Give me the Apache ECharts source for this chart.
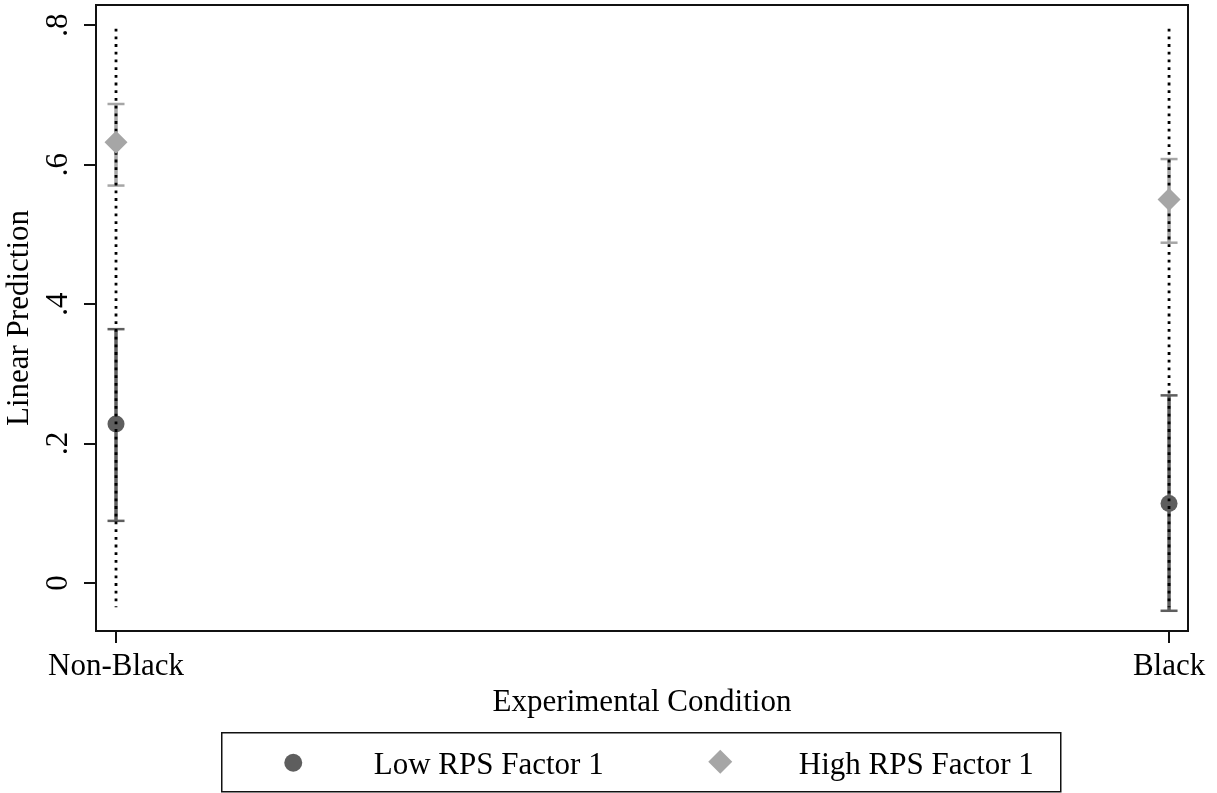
<!DOCTYPE html>
<html>
<head>
<meta charset="utf-8">
<script src="https://cdn.jsdelivr.net/npm/echarts@6/dist/echarts.min.js"></script>
<style>
  html, body { margin: 0; padding: 0; background: #fff; }
  #chart { width: 1217px; height: 793px; }
</style>
</head>
<body>
<div id="chart"></div>
<script>
// Experimental conditions (x positions 0 and 1)
const categories = ['Non-Black', 'Black'];
const seriesNames = ['Low RPS Factor 1', 'High RPS Factor 1'];

// Linear predictions with 95% confidence limits
const lowPred  = [0.228, 0.114];
const lowCILo  = [0.089, -0.040];
const lowCIHi  = [0.364, 0.269];
const highPred = [0.632, 0.550];
const highCILo = [0.570, 0.488];
const highCIHi = [0.687, 0.608];

// Dotted reference spikes at each condition
const spikeLo = [-0.035, -0.035];
const spikeHi = [0.795, 0.795];

// Y ticks
const yTicks = [0, 0.2, 0.4, 0.6, 0.8];

const FONT = '"Liberation Serif", "Times New Roman", serif';
const FS = 31;
const LOW_COLOR = '#5e5e5e';
const HIGH_COLOR = '#a6a6a6';

function rangeData(lo, hi) {
  return categories.map((c, i) => [i, lo[i], hi[i]]);
}

function ciRender(color) {
  return function (params, api) {
    const x = api.value(0);
    const a = api.coord([x, api.value(1)]);
    const b = api.coord([x, api.value(2)]);
    const cap = 8.5;
    return {
      type: 'group',
      children: [
        { type: 'line', shape: { x1: a[0], y1: a[1], x2: b[0], y2: b[1] },
          style: { stroke: color, lineWidth: 3.5 } },
        { type: 'line', shape: { x1: a[0] - cap, y1: a[1], x2: a[0] + cap, y2: a[1] },
          style: { stroke: color, lineWidth: 2.5 } },
        { type: 'line', shape: { x1: b[0] - cap, y1: b[1], x2: b[0] + cap, y2: b[1] },
          style: { stroke: color, lineWidth: 2.5 } }
      ]
    };
  };
}

function spikeRender(params, api) {
  const x = api.value(0);
  const top = api.coord([x, api.value(2)]);
  const bot = api.coord([x, api.value(1)]);
  return {
    type: 'line',
    shape: { x1: top[0], y1: top[1], x2: bot[0], y2: bot[1] },
    style: { stroke: '#000', lineWidth: 2.8, lineDash: [2.8, 4.9], lineCap: 'butt' }
  };
}

const chart = echarts.init(document.getElementById('chart'), null, { renderer: 'canvas' });

chart.setOption({
  animation: false,
  backgroundColor: '#fff',
  grid: {
    left: 96, right: 29, top: 5, bottom: 162,
    containLabel: false, outerBoundsMode: 'none',
    show: true, borderColor: '#111', borderWidth: 2, backgroundColor: '#fff'
  },
  xAxis: {
    type: 'value',
    min: -0.019, max: 1.018,
    name: 'Experimental Condition',
    nameLocation: 'middle',
    nameGap: 54,
    nameTextStyle: { fontFamily: FONT, fontSize: FS, color: '#000' },
    axisLine: { show: true, onZero: false, lineStyle: { color: '#111', width: 2 } },
    axisTick: { show: true, length: 12, customValues: [0, 1], lineStyle: { color: '#111', width: 2 } },
    axisLabel: {
      customValues: [0, 1], margin: 20,
      fontFamily: FONT, fontSize: FS, color: '#000',
      formatter: v => categories[Math.round(v)]
    },
    splitLine: { show: false }
  },
  yAxis: {
    type: 'value',
    min: -0.069, max: 0.829,
    name: 'Linear Prediction',
    nameLocation: 'middle',
    nameGap: 52,
    nameRotate: 90,
    nameTextStyle: { fontFamily: FONT, fontSize: FS, color: '#000' },
    axisLine: { show: true, onZero: false, lineStyle: { color: '#111', width: 2 } },
    axisTick: { show: true, length: 12, customValues: yTicks, lineStyle: { color: '#111', width: 2 } },
    axisLabel: {
      customValues: yTicks, rotate: 90, margin: 22,
      fontFamily: FONT, fontSize: FS, color: '#000',
      formatter: v => (v === 0 ? '0' : String(v).replace(/^0/, ''))
    },
    splitLine: { show: false }
  },
  series: [
    {
      name: seriesNames[0] + ' CI', type: 'custom', z: 2,
      renderItem: ciRender(LOW_COLOR), data: rangeData(lowCILo, lowCIHi)
    },
    {
      name: seriesNames[0], type: 'scatter', z: 3,
      symbol: 'circle', symbolSize: 17,
      itemStyle: { color: LOW_COLOR, opacity: 1 },
      data: categories.map((c, i) => [i, lowPred[i]])
    },
    {
      name: seriesNames[1] + ' CI', type: 'custom', z: 4,
      renderItem: ciRender(HIGH_COLOR), data: rangeData(highCILo, highCIHi)
    },
    {
      name: 'spike', type: 'custom', z: 5,
      renderItem: spikeRender, data: rangeData(spikeLo, spikeHi)
    },
    {
      name: seriesNames[1], type: 'scatter', z: 6,
      symbol: 'diamond', symbolSize: 23,
      itemStyle: { color: HIGH_COLOR, opacity: 1 },
      data: categories.map((c, i) => [i, highPred[i]])
    }
  ],
  graphic: [
    {
      type: 'group', left: 221, top: 732,
      children: [
        { type: 'rect', shape: { x: 0, y: 0, width: 839, height: 59 },
          style: { fill: '#fff', stroke: '#111', lineWidth: 1.5 } },
        { type: 'circle', shape: { cx: 71.5, cy: 30, r: 9 }, style: { fill: LOW_COLOR } },
        { type: 'text', x: 152, y: 33,
          style: { text: seriesNames[0], font: FS + 'px ' + FONT, fill: '#000', verticalAlign: 'middle' } },
        { type: 'polygon', shape: { points: [[498.5, 17], [510.5, 29], [498.5, 41], [486.5, 29]] },
          style: { fill: HIGH_COLOR } },
        { type: 'text', x: 577, y: 33,
          style: { text: seriesNames[1], font: FS + 'px ' + FONT, fill: '#000', verticalAlign: 'middle' } }
      ]
    }
  ]
});
</script>
</body>
</html>
